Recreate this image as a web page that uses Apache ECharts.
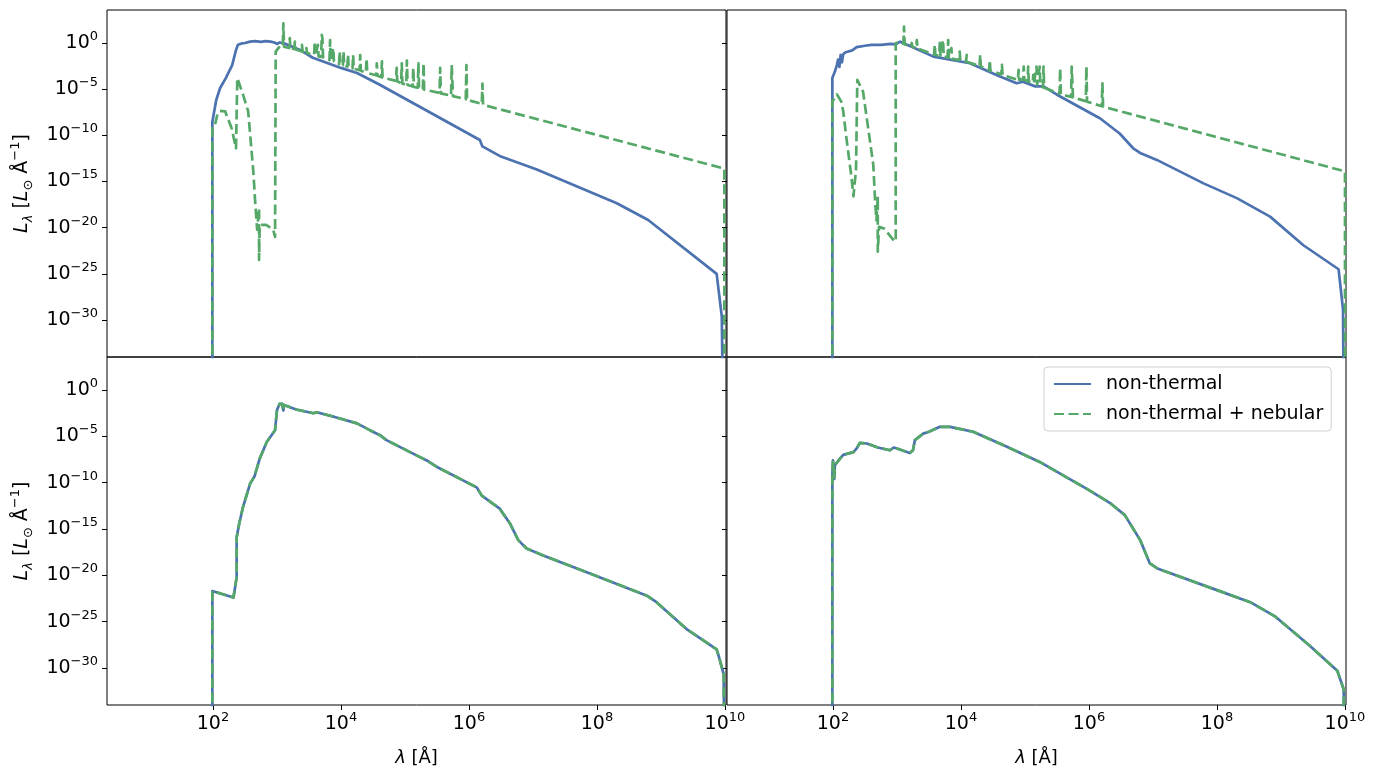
<!DOCTYPE html>
<html>
<head>
<meta charset="utf-8">
<script src="https://cdn.jsdelivr.net/npm/echarts@6/dist/echarts.min.js"></script>
<style>
  html, body { margin: 0; padding: 0; background: #fff; }
  #chart { width: 1378px; height: 777px; }
</style>
</head>
<body>
<div id="chart"></div>
<script>
// all values are log10(lambda / Angstrom), log10(L_lambda)
const xTicks = [2, 4, 6, 8, 10];
const yTicks = [0, -5, -10, -15, -20, -25, -30];
const seriesNames = ['non-thermal', 'non-thermal + nebular'];

// top left: non-thermal
const tlThermal = [
  [1.99, -40], [1.99, -8.55], [2.05, -6.2], [2.11, -4.9], [2.2, -3.8], [2.3, -2.4], [2.36, -0.75],
  [2.39, -0.2], [2.45, -0.05], [2.5, 0.0], [2.58, 0.15], [2.66, 0.2], [2.75, 0.12], [2.82, 0.2],
  [2.9, 0.15], [2.96, 0.05], [3.0, -0.1], [3.04, 0.05], [3.1, 0.0], [3.36, -0.75], [3.56, -1.6],
  [4.0, -2.7], [4.25, -3.25], [4.6, -4.5], [5.23, -6.9], [6.17, -10.5], [6.21, -11.2], [6.5, -12.3],
  [7.06, -13.7], [8.31, -17.35], [8.8, -19.16], [9.87, -25.0], [9.95, -29.6], [9.97, -40]
];
// top left: non-thermal + nebular
const tlNebular = [
  [1.99, -40], [1.99, -9.0], [2.03, -8.9], [2.07, -7.7], [2.11, -7.36], [2.19, -7.4], [2.29, -9.2],
  [2.36, -11.4], [2.38, -3.8], [2.47, -5.6], [2.55, -7.4], [2.63, -13.9], [2.66, -17.3], [2.69, -20.2],
  [2.72, -17.9], [2.72, -23.5], [2.73, -19.7], [2.83, -19.7], [2.94, -20.2], [2.97, -21.0],
  [2.98, -0.94], [3.05, -0.3], [3.09, -0.35], [3.1, 2.13], [3.11, -0.4],
  [3.19, -0.55], [3.2, 0.54], [3.21, -0.6], [3.27, -0.65], [3.28, 0.14], [3.29, -0.7],
  [3.38, -0.9], [3.39, -0.2], [3.4, -0.95], [3.45, -1.05], [3.46, -0.56], [3.47, -1.1],
  [3.58, -1.3], [3.59, 0.14], [3.6, -1.35], [3.63, -1.4], [3.64, -0.2], [3.65, -1.45],
  [3.69, -1.5], [3.7, 0.87], [3.71, 0.5], [3.72, -1.55], [3.82, -1.85], [3.83, 0.32], [3.84, -1.9],
  [3.87, -1.95], [3.88, -0.56], [3.89, -2.0], [3.97, -2.3], [3.98, -0.94], [3.99, -2.35],
  [4.03, -2.4], [4.04, -0.94], [4.05, -2.45], [4.1, -2.55], [4.11, -1.3], [4.12, -2.6],
  [4.18, -2.75], [4.19, -1.3], [4.2, -2.8], [4.29, -2.95], [4.3, -1.3], [4.31, -3.0],
  [4.39, -3.2], [4.4, -1.66], [4.41, -3.25], [4.55, -3.5], [4.56, -2.2], [4.57, -3.55],
  [4.63, -3.7], [4.64, -2.0], [4.65, -3.75], [4.86, -4.1], [4.87, -2.7], [4.88, -4.15],
  [4.94, -4.35], [4.95, -2.2], [4.96, -4.4], [5.02, -4.5], [5.03, -1.9], [5.04, -4.55],
  [5.12, -4.7], [5.13, -2.7], [5.14, -4.75], [5.2, -4.85], [5.21, -2.2], [5.22, -4.9],
  [5.28, -5.0], [5.29, -2.2], [5.3, -5.05], [5.54, -5.4], [5.55, -2.7], [5.56, -5.45],
  [5.72, -5.7], [5.73, -2.4], [5.74, -2.6], [5.75, -5.75], [5.95, -6.1], [5.96, -2.4], [5.97, -6.15],
  [6.2, -6.6], [6.21, -4.4], [6.22, -6.7], [9.99, -13.6], [9.99, -40]
];

// top right: non-thermal
const trThermal = [
  [1.99, -40], [1.99, -3.8], [2.03, -3.1], [2.06, -2.4], [2.08, -1.8], [2.1, -2.6], [2.12, -1.3],
  [2.14, -2.1], [2.16, -1.2], [2.2, -1.0], [2.3, -0.8], [2.37, -0.45], [2.5, -0.3], [2.6, -0.2],
  [2.75, -0.2], [2.9, -0.1], [2.98, -0.15], [3.05, 0.14], [3.23, -0.4], [3.57, -1.48],
  [4.14, -2.2], [4.6, -3.6], [4.87, -4.36], [4.97, -4.2], [5.16, -4.7], [5.29, -4.7], [5.5, -5.6],
  [6.17, -8.15], [6.48, -9.8], [6.69, -11.4], [6.8, -11.9], [7.06, -12.66], [7.79, -15.2],
  [8.31, -16.8], [8.83, -18.8], [9.35, -21.9], [9.9, -24.5], [9.97, -28.9], [9.98, -40]
];
// top right: non-thermal + nebular
const trNebular = [
  [1.99, -40], [1.99, -6.35], [2.06, -5.56], [2.13, -6.35], [2.16, -7.4], [2.21, -10.3], [2.29, -14.6],
  [2.32, -16.6], [2.36, -13.7], [2.38, -4.0], [2.47, -5.27], [2.63, -13.2], [2.66, -17.35],
  [2.68, -19.2], [2.7, -16.6], [2.7, -22.6], [2.72, -19.9], [2.8, -20.1], [2.94, -21.3],
  [2.98, -21.5], [2.98, 0.0], [3.05, 0.1], [3.1, -0.1], [3.11, 1.76], [3.12, -0.15],
  [3.22, -0.35], [3.23, 0.0], [3.24, -0.4], [3.3, -0.55], [3.31, 0.32], [3.32, -0.6],
  [3.58, -1.25], [3.59, -0.2], [3.6, -1.3], [3.66, -1.35], [3.67, 0.14], [3.68, -1.4],
  [3.71, -1.45], [3.72, 0.32], [3.73, -1.5], [3.79, -1.55], [3.8, 0.32], [3.81, -1.6],
  [3.84, -1.65], [3.85, -0.56], [3.86, -1.7], [3.97, -1.85], [3.98, -0.94], [3.99, -1.9],
  [4.08, -2.0], [4.09, -1.3], [4.1, -2.05], [4.29, -2.5], [4.3, -1.3], [4.31, -2.55],
  [4.44, -2.95], [4.45, -1.84], [4.46, -3.0], [4.63, -3.4], [4.64, -2.38], [4.65, -3.45],
  [4.89, -4.0], [4.9, -2.92], [4.91, -4.0], [4.97, -3.95], [4.98, -2.56], [4.99, -4.0],
  [5.04, -4.15], [5.05, -2.56], [5.06, -4.2], [5.12, -4.3], [5.13, -3.46], [5.14, -4.35],
  [5.17, -4.45], [5.18, -2.56], [5.19, -4.5], [5.22, -4.6], [5.23, -2.56], [5.24, -4.65],
  [5.28, -4.8], [5.29, -2.56], [5.3, -4.85], [5.54, -5.5], [5.55, -2.74], [5.56, -5.55],
  [5.72, -5.85], [5.73, -2.56], [5.74, -2.74], [5.75, -5.9], [5.95, -6.3], [5.96, -2.56],
  [5.97, -6.35], [6.2, -6.85], [6.21, -4.36], [6.22, -6.9], [10.0, -13.9], [10.0, -40]
];

// bottom left: both curves coincide
const blSpectrum = [
  [1.99, -40], [1.99, -21.7], [2.32, -22.4], [2.37, -20.2], [2.37, -15.9], [2.41, -14.4],
  [2.47, -12.6], [2.58, -10.1], [2.65, -9.3], [2.73, -7.4], [2.84, -5.6], [2.97, -4.33],
  [3.0, -2.16], [3.04, -1.5], [3.08, -1.5], [3.1, -2.2], [3.11, -1.6], [3.3, -2.1], [3.57, -2.5],
  [3.62, -2.4], [3.9, -2.9], [4.25, -3.6], [4.45, -4.33], [4.61, -4.87], [4.71, -5.4],
  [5.08, -6.7], [5.34, -7.6], [5.5, -8.3], [6.12, -10.5], [6.2, -11.4], [6.48, -12.8],
  [6.64, -14.4], [6.77, -16.2], [6.9, -17.1], [7.16, -17.86], [7.89, -19.8], [8.78, -22.2],
  [8.93, -22.9], [9.4, -25.8], [9.87, -28.0], [9.91, -28.9], [9.98, -30.7], [9.99, -40]
];
// bottom right: both curves coincide
const brSpectrum = [
  [1.99, -40], [1.99, -9.2], [2.0, -7.6], [2.02, -9.6], [2.03, -8.1], [2.11, -7.4], [2.16, -7.0],
  [2.32, -6.7], [2.37, -6.3], [2.42, -5.7], [2.53, -5.77], [2.7, -6.2], [2.89, -6.5], [2.95, -6.2],
  [3.0, -6.3], [3.2, -6.8], [3.25, -6.5], [3.28, -5.4], [3.41, -4.7], [3.5, -4.5], [3.67, -3.97],
  [3.83, -3.97], [4.19, -4.5], [4.71, -6.1], [5.23, -7.76], [6.0, -10.8], [6.33, -12.2],
  [6.56, -13.5], [6.8, -16.2], [6.95, -18.7], [7.08, -19.3], [8.0, -21.6], [8.52, -22.9],
  [8.9, -24.4], [9.45, -27.6], [9.88, -30.3], [9.98, -32.3], [9.99, -40]
];

const FONT = 'DejaVu Sans';
const BLUE = '#4C72B0';
const GREEN = '#55A868';
const XMIN = 0.344, XMAX = 10.016;
const YMIN = -34.0, YMAX = 3.57;

const chart = echarts.init(document.getElementById('chart'));

const grids = [
  { left: 107, top: 10, width: 619, height: 347 },
  { left: 727, top: 10, width: 619, height: 347 },
  { left: 107, top: 357, width: 619, height: 348 },
  { left: 727, top: 357, width: 619, height: 348 }
].map(g => Object.assign(g, { show: true, borderColor: '#000', borderWidth: 1, backgroundColor: 'transparent' }));

function powLabel(v) {
  const e = v < 0 ? '\u2212' + (-v) : String(v);
  return '{b|10}{s|' + e + '}';
}
const tickRich = {
  b: { fontSize: 19, fontFamily: FONT, color: '#000', lineHeight: 26 },
  s: { fontSize: 13, fontFamily: FONT, color: '#000', verticalAlign: 'top', lineHeight: 14 }
};

const xAxis = grids.map((g, i) => {
  const bottom = i >= 2;
  return {
    type: 'value', gridIndex: i, min: XMIN, max: XMAX,
    axisLine: { show: false, onZero: false },
    splitLine: { show: false },
    axisTick: { show: bottom, customValues: xTicks, length: 5, lineStyle: { color: '#000', width: 1 } },
    axisLabel: { show: bottom, customValues: xTicks, margin: 6, formatter: powLabel, rich: tickRich },
    name: bottom ? '{i|λ} [Å]' : '',
    nameLocation: 'middle', nameGap: 44,
    nameTextStyle: {
      fontSize: 18, fontFamily: FONT, color: '#000',
      rich: { i: { fontSize: 18, fontFamily: FONT, fontStyle: 'italic', color: '#000' } }
    }
  };
});

const yAxis = grids.map((g, i) => {
  const left = i % 2 === 0;
  return {
    type: 'value', gridIndex: i, min: YMIN, max: YMAX,
    axisLine: { show: false, onZero: false },
    splitLine: { show: false },
    axisTick: { show: true, customValues: yTicks, length: 5, lineStyle: { color: '#000', width: 1 } },
    axisLabel: { show: left, customValues: yTicks, margin: 9, formatter: powLabel, rich: tickRich },
    name: left ? '{i|L}{sb|λ} [{i|L}{sb|⊙} Å{sp|−1}]' : '',
    nameLocation: 'middle', nameGap: 72, nameRotate: 90,
    nameTextStyle: {
      fontSize: 19, fontFamily: FONT, color: '#000',
      rich: {
        i: { fontSize: 19, fontFamily: FONT, fontStyle: 'italic', color: '#000', lineHeight: 26 },
        sb: { fontSize: 13, fontFamily: FONT, fontStyle: 'italic', color: '#000', verticalAlign: 'bottom', lineHeight: 14 },
        sp: { fontSize: 13, fontFamily: FONT, color: '#000', verticalAlign: 'top', lineHeight: 14 }
      }
    }
  };
});

const panels = [
  [tlThermal, tlNebular],
  [trThermal, trNebular],
  [blSpectrum, blSpectrum],
  [brSpectrum, brSpectrum]
];

const series = [];
panels.forEach((pair, i) => {
  series.push({
    name: seriesNames[0], type: 'line', xAxisIndex: i, yAxisIndex: i, data: pair[0],
    symbol: 'none', clip: true, itemStyle: { color: BLUE },
    lineStyle: { color: BLUE, width: 2.7, join: 'round' }
  });
  series.push({
    name: seriesNames[1], type: 'line', xAxisIndex: i, yAxisIndex: i, data: pair[1],
    symbol: 'none', clip: true, itemStyle: { color: GREEN },
    lineStyle: { color: GREEN, width: 2.7, type: [10, 4.5], join: 'round' }
  });
});

chart.setOption({
  animation: false,
  backgroundColor: '#fff',
  grid: grids,
  xAxis: xAxis,
  yAxis: yAxis,
  legend: {
    data: seriesNames,
    orient: 'vertical',
    left: 1044, top: 367,
    backgroundColor: '#fff',
    borderColor: '#d0d0d0', borderWidth: 1, borderRadius: 4,
    padding: [6, 8, 6, 9],
    itemGap: 8, itemWidth: 37, itemHeight: 14,
    itemStyle: { opacity: 0 },
    textStyle: { fontSize: 19, fontFamily: FONT, color: '#000', lineHeight: 22, padding: [0, 0, 0, 10] }
  },
  series: series
});
</script>
</body>
</html>
